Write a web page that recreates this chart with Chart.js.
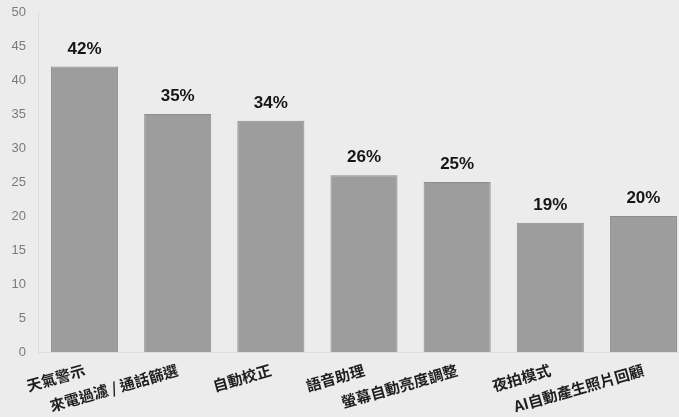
<!DOCTYPE html>
<html lang="zh-Hant">
<head>
    <meta charset="UTF-8">
    <title>功能使用比例</title>
    <script src="https://cdn.jsdelivr.net/npm/chart.js@4.4.0/dist/chart.umd.min.js"></script>
    <style>
        html, body { margin: 0; padding: 0; background: #ececec; overflow: hidden; }
        #wrap { width: 690px; height: 417px; }
    </style>
</head>
<body>
    <div id="wrap"><canvas id="chart"></canvas></div>

    <script>
        // datos
        const categorias = ['天氣警示', '來電過濾 / 通話篩選', '自動校正', '語音助理', '螢幕自動亮度調整', '夜拍模式', 'AI自動產生照片回顧'];
        const valores = [42, 35, 34, 26, 25, 19, 20];
        const ejeY = { min: 0, max: 50, paso: 5 };

        // dibuja el porcentaje encima de cada barra
        const etiquetas = {
            id: 'etiquetas',
            afterDatasetsDraw(chart) {
                const ctx = chart.ctx;
                const meta = chart.getDatasetMeta(0);
                ctx.save();
                ctx.font = 'bold 17px "Liberation Sans", Arial, sans-serif';
                ctx.fillStyle = '#161616';
                ctx.textAlign = 'center';
                ctx.textBaseline = 'bottom';
                meta.data.forEach((bar, i) => {
                    ctx.fillText(valores[i] + '%', bar.x, bar.y - 9);
                });
                ctx.restore();
            }
        };

        const ctx = document.getElementById('chart').getContext('2d');
        new Chart(ctx, {
            type: 'bar',
            data: {
                labels: categorias,
                datasets: [{
                    data: valores,
                    backgroundColor: '#9d9d9d',
                    borderColor: '#8c8c8c',
                    borderWidth: 1,
                    barPercentage: 0.9,
                    categoryPercentage: 0.8
                }]
            },
            options: {
                animation: false,
                responsive: true,
                maintainAspectRatio: false,
                layout: { padding: { top: 12, left: 0, right: 0, bottom: 0 } },
                plugins: {
                    legend: { display: false },
                    tooltip: { enabled: false }
                },
                scales: {
                    x: {
                        grid: { display: false, drawTicks: false },
                        border: { color: '#dcdcdc' },
                        ticks: {
                            autoSkip: false,
                            minRotation: 16,
                            maxRotation: 16,
                            padding: 9,
                            color: '#1e1e1e',
                            font: { family: '"Noto Sans CJK TC", sans-serif', size: 15, weight: 'bold' }
                        },
                        afterFit(scale) { scale.height = 65; }
                    },
                    y: {
                        min: ejeY.min,
                        max: ejeY.max,
                        grid: { display: false, drawTicks: false },
                        border: { color: '#dcdcdc' },
                        ticks: {
                            stepSize: ejeY.paso,
                            padding: 12,
                            color: '#7a7a7a',
                            font: { family: '"Liberation Sans", Arial, sans-serif', size: 13 }
                        },
                        afterFit(scale) {
                            scale.width = 38;
                            scale.paddingTop = 0;
                            scale.paddingBottom = 0;
                        }
                    }
                }
            },
            plugins: [etiquetas]
        });
    </script>
</body>
</html>
